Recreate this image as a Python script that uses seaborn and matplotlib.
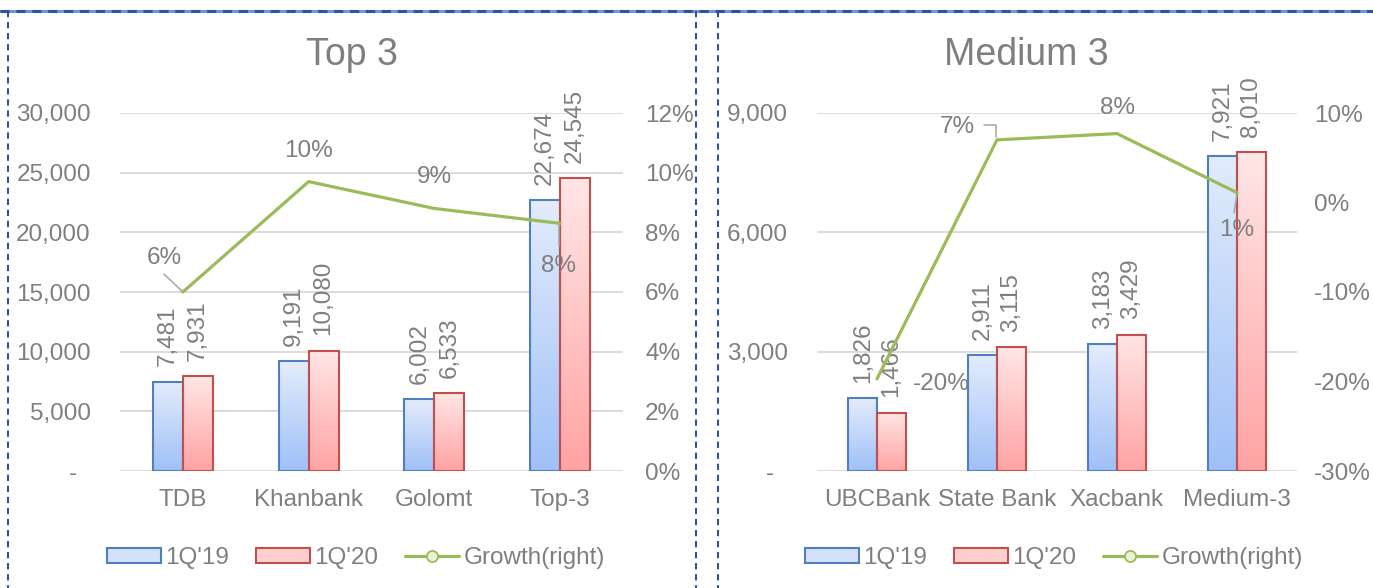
import numpy as np
import pandas as pd
import matplotlib
matplotlib.use('Agg')
import matplotlib.pyplot as plt
import seaborn as sns
from matplotlib.lines import Line2D
from matplotlib.patches import Patch
from matplotlib.colors import LinearSegmentedColormap
from matplotlib.ticker import FuncFormatter, FixedLocator

# ---------------- data ----------------
top_cats = ['TDB', 'Khanbank', 'Golomt', 'Top-3']
top_q19 = [7481, 9191, 6002, 22674]
top_q20 = [7931, 10080, 6533, 24545]
top_growth = [0.060, 0.097, 0.088, 0.083]

med_cats = ['UBCBank', 'State Bank', 'Xacbank', 'Medium-3']
med_q19 = [1826, 2911, 3183, 7921]
med_q20 = [1466, 3115, 3429, 8010]
med_growth = [-0.197, 0.070, 0.077, 0.011]

series_names = ["1Q'19", "1Q'20", "Growth(right)"]
titles = ['Top 3', 'Medium 3']

top_yticks = [0, 5000, 10000, 15000, 20000, 25000, 30000]
top_y2ticks = [0.0, 0.02, 0.04, 0.06, 0.08, 0.10, 0.12]
med_yticks = [0, 3000, 6000, 9000]
med_y2ticks = [-0.30, -0.20, -0.10, 0.0, 0.10]

# ---------------- style ----------------
sns.set_theme(style='white')
plt.rcParams['font.family'] = ['Liberation Sans', 'DejaVu Sans']
TXT = '#7f7f7f'
BLUE_EDGE = '#4f7fc0'
RED_EDGE = '#c0504d'
GREEN = '#9bbb59'
GRID = '#d9d9d9'
FS = 17.5
blue_cmap = LinearSegmentedColormap.from_list('b', ['#9fc0f7', '#e3ecfc'])
red_cmap = LinearSegmentedColormap.from_list('r', ['#ffa3a3', '#ffe6e6'])

W, H = 1373, 588
fig = plt.figure(figsize=(W / 100, H / 100), dpi=100)


def px_rect(x0, y0, x1, y1):
    return [x0 / W, 1 - y1 / H, (x1 - x0) / W, (y1 - y0) / H]


def panel(rect, cats, q19, q20, growth, yticks, y2ticks, lpad, rpad, glabels):
    ax = fig.add_axes(rect)
    n = len(cats)
    df = pd.DataFrame({'bank': cats * 2,
                       'period': [series_names[0]] * n + [series_names[1]] * n,
                       'value': q19 + q20})
    sns.barplot(data=df, x='bank', y='value', hue='period',
                hue_order=series_names[:2], palette=[BLUE_EDGE, RED_EDGE],
                width=0.476, gap=0, errorbar=None, legend=False, ax=ax)
    grad = np.linspace(0, 1, 256).reshape(-1, 1)
    for cont, cmap, ec in zip(ax.containers, [blue_cmap, red_cmap], [BLUE_EDGE, RED_EDGE]):
        for bar in cont:
            x0, w, h = bar.get_x(), bar.get_width(), bar.get_height()
            bar.set_facecolor('none')
            bar.set_edgecolor(ec)
            bar.set_linewidth(1.5)
            bar.set_zorder(3)
            im = ax.imshow(grad, cmap=cmap, extent=[x0, x0 + w, 0, h],
                           aspect='auto', origin='lower', zorder=2.5)
            im.set_clip_path(bar)
            ax.annotate(f'{int(h):,}', (x0 + w / 2, h), xytext=(0, 11),
                        textcoords='offset points', rotation=90, ha='center',
                        va='bottom', fontsize=FS, color=TXT, zorder=4,
                        annotation_clip=False)
    ax.set_xlim(-0.5, n - 0.5)
    ax.set_ylim(yticks[0], yticks[-1])
    ax.yaxis.set_major_locator(FixedLocator(yticks))
    ax.yaxis.set_major_formatter(FuncFormatter(lambda v, p: '-  ' if v == 0 else f'{int(v):,}'))
    ax.set_xlabel('')
    ax.set_ylabel('')
    ax.yaxis.grid(True, color=GRID, lw=1.3)
    ax.xaxis.grid(False)
    ax.set_axisbelow(True)
    for s in ax.spines.values():
        s.set_visible(False)
    ax.tick_params(axis='y', length=0, pad=lpad, labelsize=FS, labelcolor=TXT)
    ax.tick_params(axis='x', length=0, pad=13, labelsize=FS, labelcolor=TXT)

    ax2 = ax.twinx()
    sns.lineplot(x=np.arange(n), y=growth, ax=ax2, color=GREEN, lw=2.3,
                 legend=False, zorder=5)
    ax2.set_ylim(y2ticks[0], y2ticks[-1])
    ax2.yaxis.set_major_locator(FixedLocator(y2ticks))
    ax2.yaxis.set_major_formatter(FuncFormatter(lambda v, p: f'{v * 100:.0f}%'))
    ax2.set_ylabel('')
    ax2.grid(False)
    for s in ax2.spines.values():
        s.set_visible(False)
    ax2.tick_params(axis='y', length=0, pad=rpad, labelsize=FS, labelcolor=TXT)
    ax2.set_xlim(-0.5, n - 0.5)

    # growth labels (offsets in pixels, up positive) with optional leader lines
    inv = ax2.transData.inverted()
    for i, (g, (dx, dy, leader)) in enumerate(zip(growth, glabels)):
        px, py = ax2.transData.transform((i, g))
        ax2.annotate(f'{g * 100:.0f}%', (i, g), xytext=(dx * 0.72, dy * 0.72),
                     textcoords='offset points', ha='center', va='center',
                     fontsize=FS, color=TXT, zorder=6, annotation_clip=False)
        if leader:
            pts = inv.transform([(px + lx, py + ly) for lx, ly in leader])
            ax2.plot(pts[:, 0], pts[:, 1], color='#a6a6a6', lw=1.1, zorder=4,
                     clip_on=False)
    return ax, ax2


top_glabels = [(-19, 34, [(-19, 18), (0, 0)]),
               (0, 31, None),
               (0, 31, None),
               (-2, -43, [(-1, 0), (-1, -23)])]
med_glabels = [(64, -5, None),
               (-40, 13, [(-13, 15), (-1, 15), (-1, 3)]),
               (0, 26, None),
               (0, -37, [(0, -2), (-3, -20)])]

panel(px_rect(120, 113, 623, 471), top_cats, top_q19, top_q20, top_growth,
      top_yticks, top_y2ticks, 21, 16, top_glabels)
panel(px_rect(817, 113, 1297, 471), med_cats, med_q19, med_q20, med_growth,
      med_yticks, med_y2ticks, 21, 12, med_glabels)

# titles
fig.text(352 / W, 1 - 55 / H, titles[0], ha='center', va='center', fontsize=27, color=TXT)
fig.text(1026 / W, 1 - 55 / H, titles[1], ha='center', va='center', fontsize=27, color=TXT)

# legends
handles = [Patch(facecolor='#d3e1fb', edgecolor=BLUE_EDGE, lw=1.5),
           Patch(facecolor='#ffcfcf', edgecolor=RED_EDGE, lw=1.5),
           Line2D([], [], color=GREEN, lw=2.3, marker='o', markersize=8,
                  markerfacecolor='#ebf1d6', markeredgecolor=GREEN, markeredgewidth=1.3)]
for cx in (356, 1054):
    fig.legend(handles, series_names, loc='center', bbox_to_anchor=(cx / W, 1 - 558 / H),
               ncol=3, frameon=False, fontsize=FS, handlelength=2.2, handleheight=0.62,
               handletextpad=0.2, columnspacing=1.1, labelcolor=TXT, borderpad=0)

# panel borders
def fig_line(xs, ys, **kw):
    fig.add_artist(Line2D([x / W for x in xs], [1 - y / H for y in ys], **kw))

fig_line([0, W], [11, 11], color='#6a98d8', lw=2.2)
fig_line([0, W], [11, 11], color='#2f5597', lw=2.2, ls=(0, (3, 2.2)))
for x in (7.5, 696, 718):
    fig_line([x, x], [11, H + 5], color='#2f5597', lw=1.5, ls=(0, (3, 2.3)))

fig.savefig('out.png', dpi=100)
